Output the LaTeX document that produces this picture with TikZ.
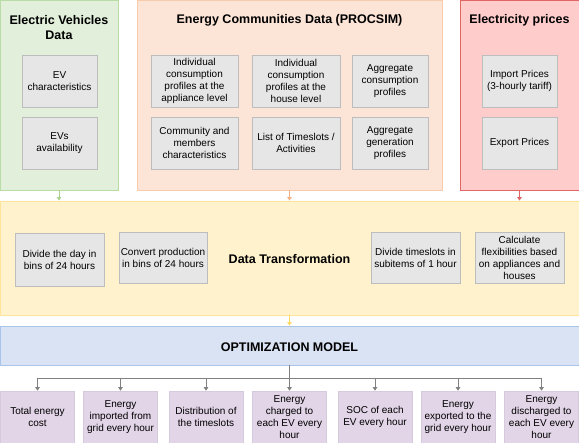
\documentclass[tikz,border=0pt]{standalone}
\usepackage{fontspec}
\setmainfont{Liberation Sans}
\usetikzlibrary{arrows.meta}
\definecolor{evfill}{HTML}{E2EFDA}
\definecolor{evline}{HTML}{B9DBA5}
\definecolor{evarrow}{HTML}{A9D18E}
\definecolor{ecfill}{HTML}{FCE4D6}
\definecolor{ecline}{HTML}{F8CBAD}
\definecolor{ecarrow}{HTML}{F4B183}
\definecolor{prfill}{HTML}{FFCCCC}
\definecolor{prline}{HTML}{E06666}
\definecolor{trfill}{HTML}{FFF2CC}
\definecolor{trline}{HTML}{FFE599}
\definecolor{trarrow}{HTML}{FFD966}
\definecolor{opfill}{HTML}{DAE3F3}
\definecolor{opline}{HTML}{A9C4EB}
\definecolor{resfill}{HTML}{E1D5E7}
\definecolor{resline}{HTML}{D6CADD}
\definecolor{itemfill}{HTML}{E6E6E6}
\definecolor{itemline}{HTML}{BDBDBD}
\definecolor{arrgray}{HTML}{808080}
\begin{document}
\begin{tikzpicture}[x=1pt,y=-1pt,
  group/.style={line width=0.8pt, inner sep=0pt},
  item/.style={draw=itemline, fill=itemfill, line width=0.6pt, align=center,
    inner sep=1pt, minimum height=52pt, font=\fontsize{10}{12}\selectfont},
  result/.style={draw=resline, fill=resfill, line width=0.6pt, align=center,
    inner sep=1pt, minimum width=74pt, minimum height=52pt, font=\fontsize{10}{12}\selectfont},
  title/.style={align=center, font=\fontsize{12.5}{15}\selectfont\bfseries},
  arr/.style={-{Triangle[width=4.5pt,length=3.5pt]}, line width=0.8pt}]
\useasboundingbox (0,0) rectangle (579,443);
% input data
\node[group, draw=evline, fill=evfill, minimum width=118pt, minimum height=190pt] (ev) at (59,95) {};
\node[group, draw=ecline, fill=ecfill, minimum width=305pt, minimum height=190pt] (ec) at (289.5,95) {};
\node[group, draw=prline, fill=prfill, minimum width=119pt, minimum height=190pt] (pr) at (519.5,95) {};
\node[title] (evtitle) at (59,27.5) {Electric Vehicles\\Data};
\node[title] (ectitle) at (289.5,20) {Energy Communities Data (PROCSIM)};
\node[title] (prtitle) at (519.5,20) {Electricity prices};
\node[item, minimum width=75pt] (evchar) at (59.5,81) {EV\\characteristics};
\node[item, minimum width=75pt] (evavail) at (59.5,143) {EVs\\availability};
\node[item, minimum width=87pt] (indapp) at (194.5,81) {Individual\\consumption\\profiles at the\\appliance level};
\node[item, minimum width=88pt] (indhouse) at (296,81) {Individual\\consumption\\profiles at the\\house level};
\node[item, minimum width=76pt] (aggcons) at (390,81) {Aggregate\\consumption\\profiles};
\node[item, minimum width=87pt] (members) at (194.5,143) {Community and\\members\\characteristics};
\node[item, minimum width=88pt] (slots) at (296,143) {List of Timeslots /\\Activities};
\node[item, minimum width=76pt] (agggen) at (390,143) {Aggregate\\generation\\profiles};
\node[item, minimum width=75pt] (import) at (519.5,81) {Import Prices\\(3-hourly tariff)};
\node[item, minimum width=75pt] (export) at (519.5,143) {Export Prices};
% transformation
\node[group, draw=trline, fill=trfill, minimum width=579pt, minimum height=114pt] (trans) at (289.5,258) {};
\node[title] (transtitle) at (289.5,259) {Data Transformation};
\node[item, minimum width=89pt, minimum height=53pt] (bins) at (59.5,259.5) {Divide the day in\\bins of 24 hours};
\node[item, minimum width=88pt, minimum height=51pt] (prod) at (163,258) {Convert production\\in bins of 24 hours};
\node[item, minimum width=89pt, minimum height=51pt] (subitems) at (415.5,258) {Divide timeslots in\\subitems of 1 hour};
\node[item, minimum width=89pt, minimum height=51pt] (flex) at (519.5,258) {Calculate\\flexibilities based\\on appliances and\\houses};
% optimization
\node[group, draw=opline, fill=opfill, minimum width=579pt, minimum height=39pt] (opt) at (289.5,345.5) {};
\node[title] (opttitle) at (289.5,347) {OPTIMIZATION MODEL};
% results
\node[result] (cost) at (37.5,417) {Total energy\\cost};
\node[result] (imported) at (120.5,417) {Energy\\imported from\\grid every hour};
\node[result] (distrib) at (206,417) {Distribution of\\the timeslots};
\node[result] (charged) at (289.5,417) {Energy\\charged to\\each EV every\\hour};
\node[result] (soc) at (375,417) {SOC of each\\EV every hour};
\node[result] (exported) at (458,417) {Energy\\exported to the\\grid every hour};
\node[result] (discharged) at (541.5,417) {Energy\\discharged to\\each EV every\\hour};
% connectors
\draw[arr, evarrow] (ev.south) -- (ev.south |- trans.north);
\draw[arr, ecarrow] (ec.south) -- (ec.south |- trans.north);
\draw[arr, prline] (pr.south) -- (pr.south |- trans.north);
\draw[arr, trarrow] (trans.south) -- (opt.north);
\coordinate (split) at (289.5,378);
\draw[line width=0.8pt, arrgray] (opt.south) -- (split);
\draw[line width=0.8pt, arrgray] (cost.north |- split) -- (discharged.north |- split);
\draw[arr, arrgray] (cost.north |- split) -- (cost.north);
\draw[arr, arrgray] (imported.north |- split) -- (imported.north);
\draw[arr, arrgray] (distrib.north |- split) -- (distrib.north);
\draw[arr, arrgray] (charged.north |- split) -- (charged.north);
\draw[arr, arrgray] (soc.north |- split) -- (soc.north);
\draw[arr, arrgray] (exported.north |- split) -- (exported.north);
\draw[arr, arrgray] (discharged.north |- split) -- (discharged.north);
\end{tikzpicture}
\end{document}
